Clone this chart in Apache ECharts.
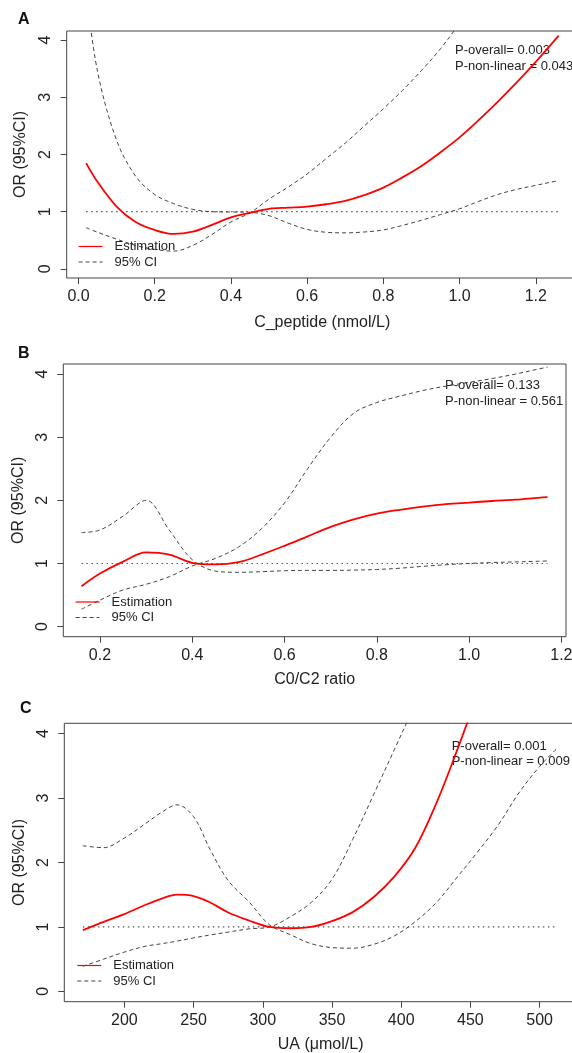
<!DOCTYPE html>
<html>
<head>
<meta charset="utf-8">
<script src="https://cdn.jsdelivr.net/npm/echarts@6/dist/echarts.min.js"></script>
<style>
  html, body { margin: 0; padding: 0; background: #fff; }
  #chart { width: 572px; height: 1053px; }
</style>
</head>
<body>
<div id="chart"></div>
<script>
// panel A: C_peptide
const xA = [0.02, 0.05, 0.1, 0.15, 0.2, 0.25, 0.3, 0.35, 0.4, 0.45, 0.5, 0.55, 0.6, 0.65, 0.7, 0.75, 0.8, 0.85, 0.9, 0.95, 1.0, 1.05, 1.1, 1.15, 1.2, 1.25, 1.26];
const estA = [1.85, 1.52, 1.09, 0.82, 0.68, 0.61, 0.65, 0.77, 0.9, 0.98, 1.05, 1.07, 1.09, 1.13, 1.19, 1.29, 1.42, 1.6, 1.8, 2.04, 2.3, 2.6, 2.92, 3.26, 3.62, 4.0, 4.08];
const ci1A = [4.85, 3.45, 2.25, 1.62, 1.3, 1.14, 1.04, 1.0, 0.995, 0.99, 0.93, 0.8, 0.69, 0.64, 0.63, 0.645, 0.68, 0.76, 0.85, 0.95, 1.05, 1.18, 1.3, 1.39, 1.46, 1.53, 1.54];
const ci2A = [0.72, 0.64, 0.52, 0.41, 0.34, 0.31, 0.41, 0.6, 0.82, 0.98, 1.22, 1.43, 1.66, 1.93, 2.2, 2.5, 2.8, 3.12, 3.47, 3.85, 4.3, 4.8, 5.3, 5.9, 6.5, 7.2, 7.3];

// panel B: C0/C2 ratio
const xB = [0.16, 0.2, 0.25, 0.3, 0.35, 0.4, 0.45, 0.5, 0.55, 0.6, 0.65, 0.7, 0.75, 0.8, 0.85, 0.9, 0.95, 1.0, 1.05, 1.1, 1.15, 1.17];
const estB = [0.64, 0.84, 1.03, 1.175, 1.14, 1.01, 0.985, 1.02, 1.14, 1.28, 1.43, 1.58, 1.7, 1.79, 1.85, 1.9, 1.94, 1.965, 1.99, 2.01, 2.04, 2.05];
const ci1B = [1.49, 1.53, 1.75, 2.0, 1.53, 1.06, 0.88, 0.86, 0.87, 0.885, 0.89, 0.89, 0.895, 0.905, 0.925, 0.955, 0.98, 1.0, 1.015, 1.025, 1.035, 1.04];
const ci2B = [0.275, 0.42, 0.58, 0.67, 0.79, 0.96, 1.08, 1.26, 1.55, 1.96, 2.5, 3.0, 3.38, 3.55, 3.65, 3.74, 3.81, 3.87, 3.93, 4.0, 4.08, 4.11];

// panel C: UA
const xC = [170, 185, 200, 215, 227, 238, 250, 262, 275, 290, 305, 320, 335, 350, 365, 380, 395, 410, 425, 440, 455, 470, 485, 500, 513];
const estC = [0.95, 1.08, 1.2, 1.34, 1.44, 1.5, 1.48, 1.38, 1.225, 1.1, 1.0, 0.98, 1.0, 1.09, 1.23, 1.46, 1.78, 2.22, 2.9, 3.72, 4.6, 5.5, 6.6, 7.9, 9.0];
const ci1C = [2.26, 2.23, 2.38, 2.6, 2.78, 2.895, 2.71, 2.2, 1.72, 1.39, 1.03, 0.88, 0.74, 0.68, 0.67, 0.73, 0.86, 1.08, 1.37, 1.76, 2.16, 2.58, 3.08, 3.49, 3.78];
const ci2C = [0.39, 0.5, 0.61, 0.7, 0.74, 0.78, 0.83, 0.875, 0.92, 0.97, 1.0, 1.16, 1.38, 1.74, 2.36, 3.05, 3.75, 4.45, 5.15, 5.85, 6.5, 7.2, 7.9, 8.5, 9.0];

const ticksA = [0, 0.2, 0.4, 0.6, 0.8, 1.0, 1.2];
const ticksB = [0.2, 0.4, 0.6, 0.8, 1.0, 1.2];
const ticksC = [200, 250, 300, 350, 400, 450, 500];
const yTicks = [0, 1, 2, 3, 4];

const font = "'Liberation Sans', Arial, sans-serif";
const boxColor = '#444';

const myChart = echarts.init(document.getElementById('chart'));

const grids = [
  { left: 66.7, top: 31, width: 511, height: 247 },
  { left: 63.3, top: 364, width: 502.7, height: 272.7 },
  { left: 64.3, top: 723.3, width: 512.7, height: 278.4 }
];
const xRanges = [[-0.031, 1.31], [0.1205, 1.21], [156.6, 527]];
const xTicks = [ticksA, ticksB, ticksC];
const xNames = ['C_peptide (nmol/L)', 'C0/C2 ratio', 'UA (μmol/L)'];
const xNameGaps = [37, 35, 35];
const yNameGaps = [38, 35, 35];
const xFmt = [v => v.toFixed(1), v => v.toFixed(1), v => String(v)];

const xAxis = grids.map((g, i) => ({
  gridIndex: i,
  type: 'value',
  position: 'bottom',
  min: xRanges[i][0],
  max: xRanges[i][1],
  name: xNames[i],
  nameLocation: 'middle',
  nameGap: xNameGaps[i],
  nameTextStyle: { fontFamily: font, fontSize: 16, color: '#222' },
  axisLine: { show: false, onZero: false },
  axisTick: { show: true, length: 6, customValues: xTicks[i], lineStyle: { color: boxColor } },
  axisLabel: { customValues: xTicks[i], formatter: xFmt[i], margin: 11, fontFamily: font, fontSize: 16, color: '#222' },
  splitLine: { show: false }
}));

const yAxis = grids.map((g, i) => ({
  gridIndex: i,
  type: 'value',
  position: 'left',
  min: -0.16,
  max: 4.16,
  name: 'OR (95%CI)',
  nameLocation: 'middle',
  nameGap: yNameGaps[i],
  nameTextStyle: { fontFamily: font, fontSize: 16, color: '#222' },
  axisLine: { show: false, onZero: false },
  axisTick: { show: true, length: 6, customValues: yTicks, lineStyle: { color: boxColor } },
  axisLabel: { customValues: yTicks, rotate: 90, margin: 13, fontFamily: font, fontSize: 16, color: '#222' },
  splitLine: { show: false }
}));

function pts(x, y) {
  return x.map((v, k) => [v, y[k]]);
}

const panels = [[xA, estA, ci1A, ci2A], [xB, estB, ci1B, ci2B], [xC, estC, ci1C, ci2C]];
const series = [];
panels.forEach(([x, est, c1, c2], i) => {
  series.push({
    type: 'line', xAxisIndex: i, yAxisIndex: i, symbol: 'none', silent: true,
    data: [[x[0], 1], [x[x.length - 1], 1]],
    lineStyle: { color: '#555', width: 1.2, type: [1.5, 3.5] }
  });
  [c1, c2].forEach(c => {
    series.push({
      name: '95% CI', type: 'line', xAxisIndex: i, yAxisIndex: i, symbol: 'none', smooth: 0.35,
      data: pts(x, c),
      itemStyle: { color: '#444' },
      lineStyle: { color: '#444', width: 1, type: [4, 3] }
    });
  });
  series.push({
    name: 'Estimation', type: 'line', xAxisIndex: i, yAxisIndex: i, symbol: 'none', smooth: 0.35,
    data: pts(x, est),
    itemStyle: { color: '#ff0000' },
    lineStyle: { color: '#ff0000', width: 1.8 }
  });
});

const legendPos = [[78, 240], [75, 595.5], [76.7, 959]];
const legend = legendPos.map(p => ({
  left: p[0], top: p[1], orient: 'vertical', padding: 0,
  itemWidth: 24, itemHeight: 14, itemGap: 2.5,
  data: ['Estimation', '95% CI'],
  itemStyle: { opacity: 0 },
  lineStyle: { width: 1.2 },
  textStyle: { fontFamily: font, fontSize: 13, color: '#222', padding: [0, 0, 0, 7] }
}));

// panel letters and p-values
const labels = [['A', 18, 20], ['B', 18, 354], ['C', 20, 709]];
const pTexts = [
  ['P-overall= 0.003', 'P-non-linear = 0.043', 455, 50, 16],
  ['P-overall= 0.133', 'P-non-linear = 0.561', 445, 385.7, 15.5],
  ['P-overall= 0.001', 'P-non-linear = 0.009', 451.7, 746.7, 15]
];
const graphic = [];
labels.forEach(([t, x, y]) => graphic.push({
  type: 'text', x: x, y: y,
  style: { text: t, fontFamily: font, fontSize: 16, fontWeight: 'bold', fill: '#111', verticalAlign: 'middle' }
}));
pTexts.forEach(([a, b, x, y, dy]) => {
  graphic.push({ type: 'text', x: x, y: y, style: { text: a, fontFamily: font, fontSize: 13, fill: '#222', verticalAlign: 'middle' } });
  graphic.push({ type: 'text', x: x, y: y + dy, style: { text: b, fontFamily: font, fontSize: 13, fill: '#222', verticalAlign: 'middle' } });
});

myChart.setOption({
  animation: false,
  backgroundColor: '#fff',
  grid: grids.map(g => Object.assign({ show: true, borderColor: boxColor, borderWidth: 1, backgroundColor: 'transparent', outerBoundsMode: 'none', containLabel: false }, g)),
  xAxis: xAxis,
  yAxis: yAxis,
  legend: legend,
  series: series,
  graphic: graphic
});
</script>
</body>
</html>
